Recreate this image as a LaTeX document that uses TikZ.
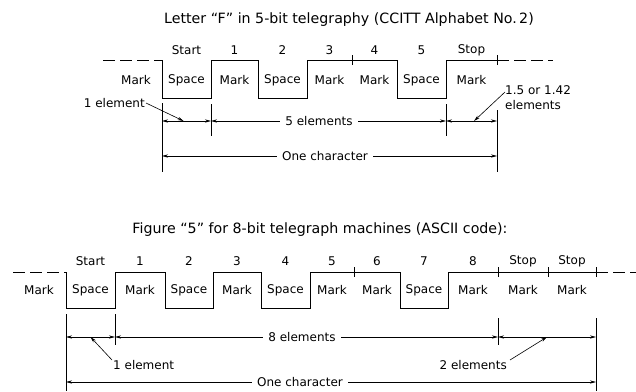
\documentclass[tikz,border=0pt]{standalone}
\usepackage{fontspec}
\setmainfont{DejaVu Sans}
\usetikzlibrary{arrows.meta,positioning,calc}

\begin{document}
\begin{tikzpicture}[x=1pt, y=-1pt,
    lbl/.style={font=\fontsize{12}{15}\selectfont, inner sep=1pt},
    ttl/.style={font=\fontsize{14.2}{17}\selectfont, inner sep=1pt},
    gaptext/.style={lbl, fill=white, inner xsep=5pt},
    wave/.style={line width=1pt, line join=miter},
    dashwave/.style={line width=1pt, dash pattern=on 12pt off 5pt},
    ext/.style={line width=0.6pt},
    tickmark/.style={line width=0.6pt},
    dim/.style={{Stealth[length=6pt,width=3.2pt]}-{Stealth[length=6pt,width=3.2pt]}, line width=0.6pt},
    ptr/.style={-{Stealth[length=6pt,width=3.2pt]}, line width=0.6pt}
  ]
  \useasboundingbox (0,0) rectangle (636,391);

  % ---- letter F, 5-bit
  \node[ttl] (titleF) at (349,20) {Letter “F” in 5-bit telegraphy (CCITT Alphabet No.\,2)};
  \draw[dashwave] (103,60) -- (162,60);
  \draw[wave] (162,60) -- (162,98) -- (211,98) -- (211,60) -- (258,60) -- (258,98)
    -- (307,98) -- (307,60) -- (397,60) -- (397,98) -- (446,98) -- (446,60) -- (497,60);
  \draw[dashwave] (497,60) -- (553,60);
  \foreach \x in {352,497} \draw[tickmark] (\x,55) -- (\x,65);
  \foreach \n/\x/\t in {s/186.5/Start, 1/234.5/1, 2/282.5/2, 3/329.5/3, 4/374.5/4, 5/421.5/5, t/471.5/Stop}
    \node[lbl] (numF\n) at (\x,50) {\t};
  \foreach \n/\x/\t in {0/136/Mark, s/186.5/Space, 1/234.5/Mark, 2/282.5/Space, 3/329.5/Mark,
      4/374.5/Mark, 5/421.5/Space, t/471.5/Mark}
    \node[lbl] (sigF\n) at (\x,80) {\t};

  % dimensions
  \draw[ext] (162,103) -- (162,172);
  \draw[ext] (211,104) -- (211,136);
  \draw[ext] (446,104) -- (446,136);
  \draw[ext] (497,110) -- (497,172);
  \coordinate (fa) at (162,121);
  \coordinate (fb) at (211,121);
  \coordinate (fc) at (446,121);
  \coordinate (fd) at (497,121);
  \coordinate (fe) at (162,156);
  \coordinate (ff) at (497,156);
  \draw[dim] (fa) -- (fb);
  \draw[dim] (fb) -- (fc);
  \node[gaptext] (fiveEl) at (319,121) {5 elements};
  \draw[dim] (fc) -- (fd);
  \node[lbl, anchor=east] (oneElF) at (146,103) {1 element};
  \draw[ptr] (oneElF.east) -- ($(fa)!0.44!(fb)$);
  \node[lbl, anchor=north west, align=left] (stopEl) at (504,84) {1.5 or 1.42\\elements};
  \draw[ptr] ($(stopEl.north west)+(1,8)$) -- ($(fc)!0.55!(fd)$);
  \draw[dim] (fe) -- (ff);
  \node[gaptext] (charF) at (325,156) {One character};

  % ---- figure 5, 8-bit
  \node[ttl] (title5) at (320,230) {Figure “5” for 8-bit telegraph machines (ASCII code):};
  \draw[dashwave] (13,272) -- (66,272);
  \draw[wave] (66,272) -- (66,308) -- (115,308) -- (115,272) -- (165,272) -- (165,308)
    -- (213,308) -- (213,272) -- (261,272) -- (261,308) -- (310,308) -- (310,272)
    -- (400,272) -- (400,308) -- (448,308) -- (448,272) -- (596,272);
  \draw[dashwave] (596,272) -- (636,272);
  \foreach \x in {354,498,548,596} \draw[tickmark] (\x,267) -- (\x,277);
  \foreach \n/\x/\t in {s/90.5/Start, 1/140/1, 2/189/2, 3/237/3, 4/285.5/4, 5/332/5, 6/377/6,
      7/424/7, 8/473/8, t/523/Stop, u/572/Stop}
    \node[lbl] (num5\n) at (\x,261) {\t};
  \foreach \n/\x/\t in {0/39/Mark, s/90.5/Space, 1/140/Mark, 2/189/Space, 3/237/Mark, 4/285.5/Space,
      5/332/Mark, 6/377/Mark, 7/424/Space, 8/473/Mark, t/523/Mark, u/572/Mark}
    \node[lbl] (sig5\n) at (\x,290) {\t};

  % dimensions
  \draw[ext] (66,314) -- (66,391);
  \draw[ext] (115,314) -- (115,345);
  \draw[ext] (498,318) -- (498,345);
  \draw[ext] (596,318) -- (596,391);
  \coordinate (ga) at (66,337);
  \coordinate (gb) at (115,337);
  \coordinate (gc) at (498,337);
  \coordinate (gd) at (596,337);
  \coordinate (ge) at (66,382);
  \coordinate (gf) at (596,382);
  \draw[dim] (ga) -- (gb);
  \draw[dim] (gb) -- (gc);
  \node[gaptext] (eightEl) at (302,337) {8 elements};
  \draw[dim] (gc) -- (gd);
  \node[lbl, anchor=west] (oneEl5) at (112,365) {1 element};
  \draw[ptr] ($(oneEl5.west)+(0,-5)$) -- ($(ga)!0.5!(gb)$);
  \node[lbl, anchor=east] (twoEl) at (508,365) {2 elements};
  \draw[ptr] ($(twoEl.east)+(2,-5)$) -- ($(gc)!0.5!(gd)$);
  \draw[dim] (ge) -- (gf);
  \node[gaptext] (char5) at (300,382) {One character};
\end{tikzpicture}
\end{document}
